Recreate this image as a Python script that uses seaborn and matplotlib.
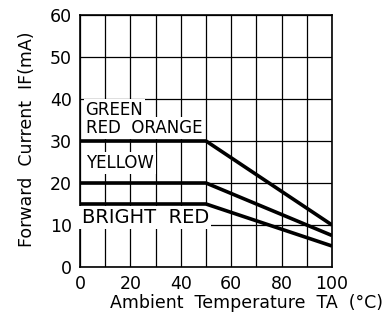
import matplotlib
matplotlib.use("Agg")
import matplotlib.pyplot as plt
import seaborn as sns
import pandas as pd

temperature = [0, 50, 100]
green_red_orange = [30, 30, 10]
yellow = [20, 20, 7.5]
bright_red = [15, 15, 5]
x_ticks = [0, 20, 40, 60, 80, 100]
y_ticks = [0, 10, 20, 30, 40, 50, 60]

sns.set_theme(style="white")
plt.rcParams['font.family'] = ['DejaVu Sans']
plt.rcParams['text.color'] = 'black'

fig = plt.figure(figsize=(3.86, 3.31), dpi=100)
ax = fig.add_axes([80/386, 1 - 267/331, 252/386, 252/331])

df = pd.DataFrame({
    "T": temperature * 3,
    "I": green_red_orange + yellow + bright_red,
    "s": ["g"] * 3 + ["y"] * 3 + ["b"] * 3,
})
for name in ["g", "y", "b"]:
    sns.lineplot(data=df[df.s == name], x="T", y="I", ax=ax, color="black",
                 linewidth=2.6, legend=False, zorder=5, solid_capstyle="butt")
sns.lineplot(x=[100, 100], y=[0, green_red_orange[-1]], ax=ax, color="black",
             linewidth=2.6, zorder=5)

ax.set_xlim(0, 100)
ax.set_ylim(0, 60)
ax.set_xticks(x_ticks)
ax.set_yticks(y_ticks)
ax.set_xticks(range(0, 101, 10), minor=True)
ax.grid(True, which="both", color="black", linewidth=0.9)
ax.tick_params(which="both", length=0, labelsize=12.5, colors="black", pad=6)
for s in ax.spines.values():
    s.set_color("black")
    s.set_linewidth(1.2)

ax.set_xlabel("Ambient  Temperature  TA  (°C)", fontsize=12.5, color="black")
ax.xaxis.set_label_coords((247 - 80) / 252, -(303 - 267) / 252)
ax.xaxis.label.set_va("center")
ax.set_ylabel("Forward  Current  IF(mA)", fontsize=12.5, color="black")
ax.yaxis.set_label_coords(-(80 - 27) / 252, (267 - 139) / 252)
ax.yaxis.label.set_va("center")

box = dict(facecolor="white", edgecolor="none", pad=1.5)
kw = dict(va="baseline", bbox=box, zorder=4, color="black")
ax.text(2.2, 36.2, "GREEN", fontsize=12, **kw)
ax.text(2.2, 31.8, "RED  ORANGE", fontsize=12, **kw)
ax.text(2.5, 23.5, "YELLOW", fontsize=12, **kw)
ax.text(0.6, 10.5, "BRIGHT  RED", fontsize=14, **kw)

fig.savefig("out.png", dpi=100)
